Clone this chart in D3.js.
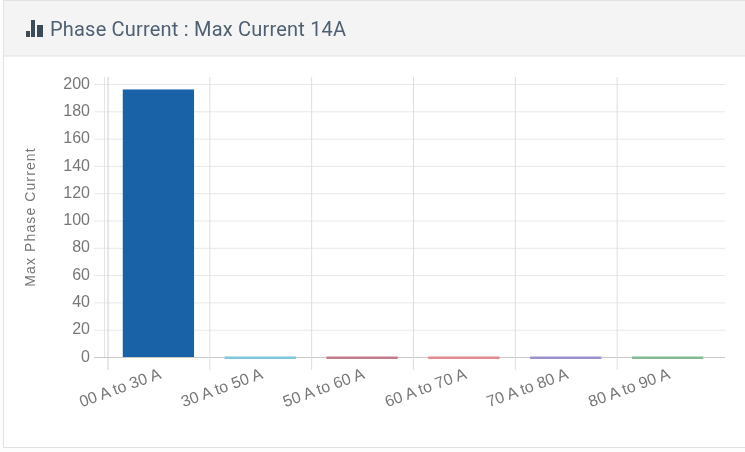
<!DOCTYPE html>
<html>
<head>
<meta charset="utf-8">
<script src="https://cdn.jsdelivr.net/npm/d3@7"></script>
<style>
  html, body { margin: 0; padding: 0; background: #fdfdfd; overflow: hidden; }
  svg { display: block; filter: blur(0.45px); }
  .tick text { font-family: "Liberation Sans", Arial, sans-serif; fill: #777; }
</style>
</head>
<body>
<div id="chart"></div>
<script>
const categories = ['00 A to 30 A', '30 A to 50 A', '50 A to 60 A', '60 A to 70 A', '70 A to 80 A', '80 A to 90 A'];
const phaseValues = [196, 0, 0, 0, 0, 0];
const barColors = ['#1a62a8', '#7fc8da', '#c07c88', '#e48a92', '#9a92cc', '#82bc94'];
const yTicks = [0, 20, 40, 60, 80, 100, 120, 140, 160, 180, 200];

const width = 745, height = 452;
const plot = { left: 108, right: 719, top: 84, bottom: 357 };

const svg = d3.select('#chart').append('svg')
  .attr('width', width)
  .attr('height', height);

// Panel and heading
svg.append('rect')
  .attr('x', 3.5).attr('y', 0.5)
  .attr('width', 745).attr('height', 447)
  .attr('fill', '#fff').attr('stroke', '#e2e2e2');
svg.append('rect')
  .attr('x', 3.5).attr('y', 0.5)
  .attr('width', 745).attr('height', 55.5)
  .attr('fill', '#f4f4f4').attr('stroke', '#e2e2e2');

// Heading icon, three little bars
const iconBars = [[26, 6, 4], [31, 17, 4], [37, 12, 6]];
svg.selectAll('.icon-bar')
  .data(iconBars)
  .enter()
  .append('rect')
  .attr('class', 'icon-bar')
  .attr('x', d => d[0])
  .attr('y', d => 37 - d[1])
  .attr('width', d => d[2])
  .attr('height', d => d[1])
  .attr('fill', '#3d4a57');

svg.append('text')
  .attr('x', 50).attr('y', 36)
  .attr('font-family', 'Roboto, sans-serif')
  .attr('font-size', 20)
  .attr('letter-spacing', 0.2)
  .attr('fill', '#4f6072')
  .text('Phase Current : Max Current 14A');

// Scales
const xScale = d3.scaleBand()
  .domain(categories)
  .range([plot.left, plot.right])
  .paddingInner(0.3)
  .paddingOuter(0.15);

const yScale = d3.scaleLinear()
  .domain([0, 200])
  .range([plot.bottom, plot.top]);

// Horizontal grid with the y labels
const yAxis = d3.axisLeft(yScale)
  .tickValues(yTicks)
  .tickSize(0)
  .tickPadding(18);

const yGroup = svg.append('g')
  .attr('class', 'y-axis')
  .attr('transform', `translate(${plot.left}, 0)`)
  .call(yAxis);
yGroup.select('.domain').remove();
yGroup.selectAll('.tick text').attr('font-size', 16).attr('y', -1);
yGroup.selectAll('.tick line')
  .attr('x1', -14)
  .attr('x2', 725 - plot.left)
  .attr('stroke', d => d === 0 ? '#c8c8c8' : '#e8e8e8');

// Vertical grid, one line at the left edge of each band
const step = xScale.step();
svg.selectAll('.v-grid')
  .data(categories)
  .enter()
  .append('line')
  .attr('class', 'v-grid')
  .attr('x1', d => xScale(d) - step * xScale.paddingOuter())
  .attr('x2', d => xScale(d) - step * xScale.paddingOuter())
  .attr('y1', 77)
  .attr('y2', 370)
  .attr('stroke', (d, i) => i === 0 ? '#d0d0d0' : '#dedede');

svg.append('line')
  .attr('x1', 104.5).attr('x2', 104.5)
  .attr('y1', 77).attr('y2', 357)
  .attr('stroke', '#e4e4e4');

// Bars, a zero value still shows its border
svg.selectAll('.bar')
  .data(phaseValues)
  .enter()
  .append('rect')
  .attr('class', 'bar')
  .attr('x', (d, i) => xScale(categories[i]) - 0.5)
  .attr('y', d => yScale(d) - (d === 0 ? 0.5 : 0))
  .attr('width', xScale.bandwidth())
  .attr('height', d => Math.max(2.5, yScale(0) - yScale(d)))
  .attr('fill', (d, i) => barColors[i]);

// Category labels
const xAxis = d3.axisBottom(xScale).tickSize(0);
const xGroup = svg.append('g')
  .attr('class', 'x-axis')
  .attr('transform', `translate(0, ${plot.bottom})`)
  .call(xAxis);
xGroup.select('.domain').remove();
xGroup.selectAll('.tick text')
  .attr('font-size', 16)
  .attr('text-anchor', 'end')
  .attr('dy', null)
  .attr('y', 0)
  .attr('transform', 'translate(3, 21) rotate(-20)');

svg.append('text')
  .attr('transform', 'translate(35, 217) rotate(-90)')
  .attr('text-anchor', 'middle')
  .attr('font-family', '"Liberation Sans", Arial, sans-serif')
  .attr('font-size', 14)
  .attr('letter-spacing', 1.1)
  .attr('fill', '#777')
  .text('Max Phase Current');
</script>
</body>
</html>
